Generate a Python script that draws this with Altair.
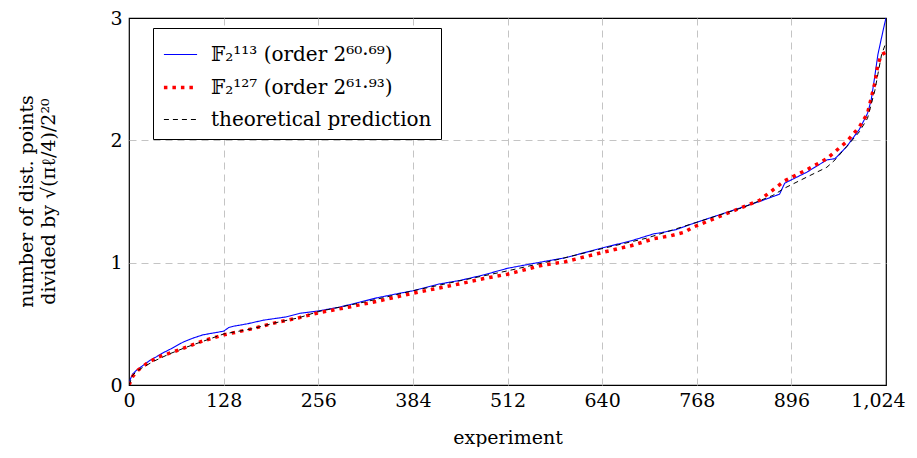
import altair as alt
import pandas as pd

names = ["𝔽₂¹¹³ (order 2⁶⁰·⁶⁹)", "𝔽₂¹²⁷ (order 2⁶¹·⁹³)", "theoretical prediction"]

blue_x = [0, 2, 5, 10, 19, 28, 37, 45, 55, 73, 85, 100, 128, 135, 141, 160, 182, 212, 231, 256, 285, 312, 335,
          366, 384, 419, 448, 480, 512, 560, 590, 640, 680, 710, 720, 740, 763, 808, 853, 871, 880, 887, 917,
          944, 955, 971, 988, 999, 1004, 1009, 1013, 1018, 1022, 1024]
blue_y = [0.0, 0.05, 0.09, 0.12, 0.16, 0.20, 0.23, 0.26, 0.29, 0.35, 0.38, 0.41, 0.44, 0.47, 0.48, 0.50, 0.53,
          0.556, 0.586, 0.605, 0.637, 0.677, 0.712, 0.75, 0.77, 0.825, 0.855, 0.90, 0.954, 1.008, 1.04, 1.12,
          1.18, 1.236, 1.245, 1.27, 1.32, 1.41, 1.50, 1.54, 1.56, 1.65, 1.74, 1.84, 1.85, 1.95, 2.09, 2.22,
          2.33, 2.53, 2.70, 2.84, 2.95, 3.0]

red_x = [0, 5, 12, 25, 40, 55, 78, 100, 128, 167, 199, 230, 256, 300, 340, 384, 446, 480, 512, 560, 590, 640,
         680, 710, 733, 752, 763, 808, 853, 887, 917, 944, 971, 988, 999, 1009, 1013, 1018, 1024]
red_y = [0.0, 0.07, 0.12, 0.18, 0.23, 0.26, 0.31, 0.36, 0.41, 0.46, 0.51, 0.55, 0.59, 0.64, 0.69, 0.75, 0.825,
         0.87, 0.906, 0.98, 1.008, 1.083, 1.14, 1.196, 1.22, 1.25, 1.29, 1.40, 1.51, 1.67, 1.76, 1.85, 1.99,
         2.11, 2.22, 2.47, 2.62, 2.70, 2.72]

theo_x = [0, 5, 12, 32, 55, 78, 100, 128, 167, 199, 230, 256, 320, 384, 446, 512, 576, 640, 700, 768, 830, 871,
          887, 917, 944, 955, 971, 988, 999, 1009, 1013, 1018, 1024]
theo_y = [0.0, 0.08, 0.12, 0.19, 0.255, 0.31, 0.357, 0.417, 0.46, 0.51, 0.55, 0.60, 0.68, 0.77, 0.85, 0.933,
          1.02, 1.115, 1.20, 1.33, 1.45, 1.55, 1.61, 1.70, 1.78, 1.84, 1.95, 2.07, 2.18, 2.41, 2.54, 2.70, 2.80]

x_ticks = [0, 128, 256, 384, 512, 640, 768, 896, 1024]
y_ticks = [0, 1, 2, 3]

rows = []
for name, xs, ys in [(names[0], blue_x, blue_y), (names[1], red_x, red_y), (names[2], theo_x, theo_y)]:
    for xv, yv in zip(xs, ys):
        rows.append({"series": name, "x": xv, "y": yv})
df = pd.DataFrame(rows)

FONT = "DejaVu Serif"
FS = 19

leg = alt.Legend(title=None, orient="none", legendX=24, legendY=10, strokeColor="black", fillColor="white",
                 padding=9, symbolType="stroke", symbolSize=1100, labelFont=FONT, labelFontSize=20,
                 labelColor="black", rowPadding=4, labelLimit=500, cornerRadius=0, labelOffset=12)

x_grid_op = {"condition": {"test": "datum.value == 0 || datum.value == 1024", "value": 0}, "value": 1}
y_grid_op = {"condition": {"test": "datum.value == 0 || datum.value == 3", "value": 0}, "value": 1}
x_lab_off = {"condition": {"test": "datum.value == 1024", "value": -8}, "value": 0}

chart = alt.Chart(df).mark_line(clip=True).encode(
    x=alt.X("x:Q", scale=alt.Scale(domain=[0, 1024], nice=False, zero=False),
            axis=alt.Axis(values=x_ticks, format=",d", title="experiment", grid=True, gridDash=[7, 5],
                          gridColor="#c4c4c4", gridOpacity=x_grid_op, ticks=False, domain=False,
                          labelFont=FONT, labelFontSize=FS, labelFlush=False, labelOffset=x_lab_off,
                          labelColor="black", labelPadding=6, titleFont=FONT, titleFontSize=FS,
                          titleFontWeight="normal", titleColor="black", titlePadding=18)),
    y=alt.Y("y:Q", scale=alt.Scale(domain=[0, 3], nice=False),
            axis=alt.Axis(values=y_ticks, title=["number of dist. points", "divided by √(πℓ/4)/2²⁰"],
                          grid=True, gridDash=[7, 5], gridColor="#c4c4c4", gridOpacity=y_grid_op,
                          ticks=False, domain=False, labelFlush=False,
                          labelFont=FONT, labelFontSize=FS, labelColor="black", labelPadding=7,
                          titleFont=FONT, titleFontSize=FS, titleFontWeight="normal", titleColor="black",
                          titleX=-103, titleY=183, titleAlign="center", titleBaseline="middle",
                          titleLineHeight=22)),
    color=alt.Color("series:N", scale=alt.Scale(domain=names, range=["#0000ff", "#ff0000", "#000000"]), legend=leg),
    strokeDash=alt.StrokeDash("series:N", scale=alt.Scale(domain=names, range=[[1, 0], [3.5, 5], [5, 4]]), legend=leg),
    strokeWidth=alt.StrokeWidth("series:N", scale=alt.Scale(type="ordinal", domain=names, range=[1.1, 3.5, 1]), legend=leg),
).properties(
    width=757, height=367, autosize=alt.AutoSizeParams(type="none"),
    padding={"left": 121, "top": 10, "right": 22, "bottom": 62}
).configure_view(stroke="black", strokeWidth=1.2)

chart.save("out.html", embed_options={"renderer": "svg", "actions": False})
